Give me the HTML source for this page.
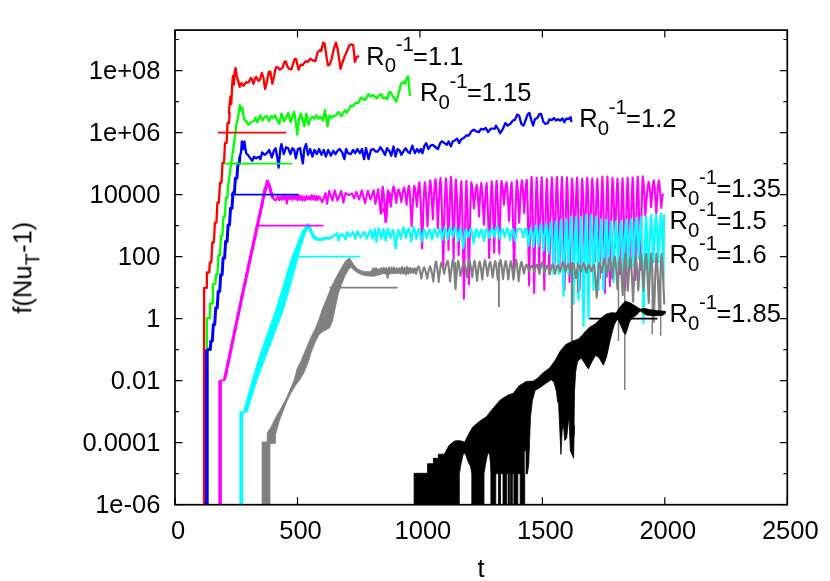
<!DOCTYPE html>
<html><head><meta charset="utf-8"><title>plot</title>
<style>
html,body{margin:0;padding:0;background:#fff;}
body{width:830px;height:581px;overflow:hidden;}
svg{display:block;}
text{font-family:"Liberation Sans",sans-serif;font-size:25.5px;fill:#000;}
</style></head><body>
<svg width="830" height="581" viewBox="0 0 830 581">
<rect width="830" height="581" fill="#fff"/>
<g id="curves">
<polyline points="204.1,504.7 204.1,287.8 206.9,287.8 206.9,272.4 209.3,272.4 209.8,262.4 211.3,262.4 212.3,242.5 213.9,242.5 214.9,222.6 216.4,222.6 217.4,202.7 218.9,202.7 220.0,182.7 221.5,182.7 222.5,162.8 224.0,162.8 225.0,142.9 226.6,142.9 227.6,123.0 229.1,123.0 229.6,113.0 228.9,113.0 229.6,104.2 230.4,96.6 231.3,104.2 232.1,85.8 232.9,76.0 234.0,84.7 234.7,71.7 235.6,67.9 236.7,76.0 238.0,80.4 239.7,86.9 241.2,83.1 243.4,85.8 245.9,82.5 248.6,82.3 250.8,78.0 252.1,79.3 253.5,83.8 255.1,78.2 256.4,76.9 258.4,80.9 260.0,79.8 261.8,73.0 263.3,77.1 265.1,89.0 267.0,81.4 268.7,72.2 270.3,71.7 272.3,83.8 274.1,76.0 275.9,67.3 277.7,67.1 279.8,69.7 282.8,67.3 284.4,61.9 285.7,61.4 287.4,66.3 289.3,69.0 291.4,69.3 293.1,63.6 294.7,58.9 296.1,59.2 298.5,69.7 300.7,64.6 302.8,65.2 305.0,61.9 306.0,61.2 307.7,62.0 310.2,58.7 312.8,60.4 315.3,61.2 317.8,51.9 320.0,50.2 321.2,51.1 323.2,42.6 324.6,43.5 326.3,55.3 327.9,65.4 329.6,64.6 331.3,60.4 333.5,50.2 335.9,42.6 337.6,48.6 340.6,68.8 342.6,62.0 344.8,56.1 347.3,50.2 349.4,45.2 351.6,44.3 353.2,45.2 354.9,62.0 356.6,57.0 359.2,56.1" fill="none" stroke="#ff0000" stroke-width="2.3" stroke-linejoin="round" />
<polyline points="206.9,504.7 206.9,318.2 209.9,318.2 209.9,303.5 212.9,303.5 212.9,283.9 215.5,283.9 216.0,274.3 217.5,274.3 218.5,255.1 220.0,255.1 221.0,235.9 222.4,235.9 223.4,216.8 224.9,216.8 225.9,197.6 227.4,197.6 227.9,188.0 227.9,188.0 230.1,171.0 232.1,157.5 234.4,140.6 236.5,123.7 238.2,117.0 239.8,105.2 241.0,110.2 242.4,107.7 243.9,118.7 246.1,121.2 248.6,124.6 251.1,122.0 253.7,121.2 255.4,117.8 257.0,122.0 258.7,119.5 260.4,115.3 262.4,120.4 264.6,117.0 266.8,116.1 268.9,121.2 270.9,116.1 273.1,117.8 274.8,115.3 277.3,120.4 279.3,123.7 281.5,113.6 284.0,121.2 286.1,117.8 288.2,112.8 290.4,122.0 292.5,117.0 294.2,111.9 295.8,122.0 297.2,134.7 298.9,119.5 300.9,113.6 302.6,120.4 304.3,126.3 306.3,113.6 308.5,124.6 310.7,117.8 312.7,117.0 314.4,118.7 316.4,115.3 318.6,118.7 320.8,117.0 322.8,120.4 325.0,110.2 327.5,126.3 329.6,115.3 331.6,117.8 333.8,116.1 336.0,115.3 338.3,111.9 341.4,116.1 344.8,110.2 346.8,112.8 350.7,106.0 353.2,106.0 355.7,102.6 358.2,103.2 360.8,97.6 365.0,100.1 366.2,98.3 368.4,94.1 370.6,96.6 372.6,94.9 374.7,96.6 376.9,98.3 379.4,94.9 381.1,94.1 383.1,98.3 385.3,97.5 387.0,99.2 389.2,92.4 390.7,92.1 392.9,96.6 396.3,101.7 398.8,92.4 401.3,83.1 403.3,82.3 404.7,84.0 406.4,78.9 408.1,76.4 408.9,85.7 410.1,95.8" fill="none" stroke="#00ff00" stroke-width="2.3" stroke-linejoin="round" />
<rect x="205.0" y="349.5" width="3.7" height="155.2" fill="#0000ff"/>
<polyline points="207.0,349.5 210.3,349.5 210.8,341.2 212.3,341.2 213.3,324.6 214.7,324.6 215.7,308.0 217.2,308.0 218.2,291.4 219.7,291.4 220.7,274.8 222.1,274.8 223.1,258.1 224.6,258.1 225.6,241.5 227.1,241.5 228.1,224.9 229.5,224.9 230.5,208.3 232.0,208.3 232.5,200.0 233.0,192.8 234.4,192.8 235.4,178.2 236.9,178.2 237.9,163.8 239.3,163.8 239.8,156.5" fill="none" stroke="#0000ff" stroke-width="3.0" stroke-linejoin="round" />
<polyline points="239.8,157.0 241.0,152.4 241.9,141.4 243.2,149.0 244.4,141.4 246.1,153.2 247.8,154.9 250.3,158.3 252.3,160.8 254.0,156.6 256.2,158.3 258.7,156.6 260.4,159.2 262.1,152.4 264.6,154.9 266.8,153.2 269.2,149.9 271.9,157.5 273.9,150.7 275.6,148.2 277.3,157.5 278.6,167.6 280.3,149.0 281.5,144.0 283.7,154.1 286.1,147.3 288.2,148.2 290.4,154.1 292.5,148.2 294.2,149.9 295.8,158.3 297.9,149.0 300.1,148.2 301.7,157.5 302.9,163.4 304.3,149.0 306.0,144.0 308.0,154.9 310.2,149.0 312.4,156.6 314.4,149.9 316.9,154.1 319.1,149.0 321.5,154.9 323.7,149.9 325.9,156.6 328.2,149.9 330.9,155.8 333.3,150.7 335.5,154.1 337.7,150.7 339.7,149.0 342.2,152.4 344.4,159.2 346.1,149.0 348.1,153.2 350.7,154.1 353.2,149.9 355.2,153.2 357.4,149.0 359.9,153.2 362.0,149.0 364.1,159.2 366.0,148.1 368.5,159.1 371.0,149.8 373.2,149.0 375.6,151.5 377.8,151.5 380.3,147.3 382.8,150.7 385.0,154.9 387.0,148.1 389.6,151.5 391.3,155.7 393.5,146.4 395.5,156.6 397.5,149.0 399.7,150.7 401.4,154.9 403.9,150.7 405.6,148.1 407.6,151.5 409.8,153.2 412.3,145.6 414.9,153.2 417.1,149.0 419.1,152.3 420.8,149.0 422.5,153.2 424.5,145.6 426.2,143.1 428.4,149.0 430.6,145.6 432.9,144.8 435.6,147.3 438.0,149.0 440.2,143.1 441.9,141.4 444.4,143.1 446.9,144.8 448.6,141.4 450.8,146.4 452.8,141.4 454.8,140.5 457.0,138.5 459.2,143.1 461.3,139.2 463.8,138.0 466.3,135.5 468.8,135.5 471.4,131.3 473.9,129.6 476.1,131.3 479.0,132.1 481.2,128.7 483.5,129.6 485.7,127.9 488.2,132.1 490.8,128.7 495.0,128.7 496.0,125.6 498.2,129.0 500.2,133.2 502.8,129.0 505.3,123.1 507.8,125.6 510.4,123.9 512.9,120.5 515.1,119.7 517.1,114.6 519.1,115.5 521.3,123.9 523.5,125.6 525.5,120.5 527.6,114.6 529.4,112.9 531.4,120.5 533.1,125.6 534.8,119.2 537.3,118.0 539.4,114.1 541.1,113.8 543.2,121.4 545.4,123.9 547.8,123.1 549.5,119.2 551.7,120.2 553.9,118.0 555.9,120.5 557.9,119.2 560.1,120.5 562.6,118.5 564.3,122.2 566.4,118.5 568.5,119.2 570.7,117.2 571.4,122.2" fill="none" stroke="#0000ff" stroke-width="2.3" stroke-linejoin="round" />
<rect x="218.3" y="380.3" width="3.6" height="124.4" fill="#ff00ff"/>
<polyline points="220.0,380.3 224.4,380.3 224.4,380.3 224.9,374.7 226.3,374.7 227.2,363.4 228.7,363.4 229.6,352.1 231.1,352.1 232.0,340.8 233.4,340.8 234.4,329.5 235.8,329.5 236.8,318.2 238.2,318.2 239.1,306.9 240.6,306.9 241.5,295.6 242.9,295.6 243.4,290.0 243.4,290.0 243.9,284.3 245.4,284.3 246.4,272.9 247.8,272.9 248.8,261.5 250.3,261.5 251.3,250.1 252.8,250.1 253.8,238.8 255.2,238.8 256.2,227.4 257.7,227.4 258.7,216.0 260.2,216.0 261.2,204.6 262.6,204.6 263.6,193.2 265.1,193.2 265.6,187.5" fill="none" stroke="#ff00ff" stroke-width="1.8" stroke-linejoin="round" />
<polyline points="224.6,379.5 243.4,290.0 265.6,187.5" fill="none" stroke="#ff00ff" stroke-width="3.1" stroke-linejoin="round" />
<polyline points="265.2,188.6 266.5,186.0 267.7,181.0 268.8,186.0 270.2,188.6 271.5,194.0 272.8,197.9 275.3,200.4 276.5,199.6 277.8,196.3 279.1,200.2 280.4,196.5 281.7,200.0 283.0,195.9 284.3,199.1 285.6,195.7 286.9,203.5 288.2,195.8 289.5,199.1 290.8,196.4 292.1,199.8 293.4,195.1 294.7,199.2 296.0,196.2 297.3,200.1 298.6,194.9 299.9,200.0 301.2,195.9 302.5,200.8 303.8,196.5 305.1,200.5 306.4,196.1 307.7,199.3 309.0,196.4 310.3,199.6 311.6,195.1 312.9,199.3 314.2,195.6 315.5,200.2 316.8,195.9 318.1,200.0 319.4,196.5 320.7,199.1 322.2,202.2 325.5,193.0 327.1,203.9 329.1,190.8 332.5,200.6 334.7,190.3 337.4,200.6 341.2,190.8 343.4,202.8 345.5,193.0 348.8,195.2 352.0,193.6 354.2,198.4 356.4,191.9 359.1,199.5 361.8,190.3 365.1,203.3 367.8,190.8 370.5,199.5 373.7,190.3 375.4,203.9 378.1,189.2 380.8,213.6 383.0,187.6 386.2,221.7 388.4,190.8 391.1,197.3 380.9,213.8 381.3,206.3 381.6,199.6 382.0,193.9 382.3,189.3 382.7,186.7 383.3,190.1 383.8,196.0 384.3,203.5 384.9,212.2 385.4,221.9 386.0,213.2 386.5,205.4 387.0,198.7 387.6,193.4 388.1,190.3 388.7,191.9 389.2,194.6 389.8,198.1 390.3,202.1 390.8,206.6 391.4,201.0 391.9,196.0 392.5,191.7 393.0,188.3 393.6,186.3 394.1,187.9 394.6,190.7 395.2,194.3 395.7,198.4 396.3,203.0 396.7,199.2 397.2,195.9 397.7,193.0 398.1,190.7 398.6,189.4 399.2,190.6 399.7,192.7 400.2,195.4 400.8,198.6 401.3,202.1 401.9,198.1 402.4,194.5 403.0,191.4 403.5,189.0 404.0,187.6 404.5,189.3 405.0,192.1 405.6,195.8 406.1,200.0 406.6,204.8 407.0,199.5 407.5,194.8 408.0,190.8 408.4,187.6 408.9,185.8 409.5,189.7 410.0,196.6 410.5,205.2 411.1,215.2 411.6,226.4 412.2,215.2 412.7,205.2 413.3,196.6 413.8,189.7 414.3,185.8 414.8,187.8 415.4,191.3 415.9,195.7 416.4,200.8 416.9,206.6 417.4,199.8 417.9,193.8 418.4,188.6 418.9,184.5 419.4,182.2 419.9,188.6 420.5,199.6 421.0,213.6 421.6,229.9 422.1,248.1 422.7,229.9 423.2,213.6 423.7,199.6 424.3,188.6 424.8,182.2 425.4,186.5 425.9,193.9 426.4,203.3 427.0,214.2 427.5,226.4 428.1,213.7 428.6,202.3 429.2,192.6 429.7,184.8 430.2,180.4 430.8,184.1 431.3,190.7 431.8,198.9 432.3,208.5 432.8,219.2 433.3,208.1 433.9,198.2 434.4,189.7 434.9,183.0 435.5,179.1 436.0,183.9 436.4,192.1 436.9,202.5 437.4,214.7 437.8,228.3 438.4,214.4 438.9,202.0 439.5,191.3 440.0,182.9 440.5,178.0 441.1,186.6 441.6,201.4 442.2,220.1 442.7,241.8 443.3,266.2 443.8,242.0 444.3,220.3 444.9,201.8 445.4,187.1 446.0,178.6 446.5,185.5 447.0,197.5 447.5,212.6 448.0,230.2 448.5,249.9 449.0,229.7 449.5,211.6 450.0,196.1 450.5,183.8 451.0,176.7 451.5,184.7 452.0,198.5 452.5,216.0 453.1,236.2 453.6,259.0 454.0,237.0 454.5,217.4 455.0,200.5 455.4,187.2 455.9,179.5 456.5,186.8 457.0,199.6 457.5,215.7 458.1,234.4 458.6,255.4 459.2,234.9 459.7,216.6 460.2,200.9 460.8,188.4 461.3,181.3 461.8,192.7 462.3,212.4 462.8,237.3 463.4,266.3 463.9,298.7 464.4,266.2 464.9,237.1 465.4,212.1 465.9,192.3 466.4,180.9 466.9,190.9 467.4,208.3 467.9,230.2 468.4,255.7 468.9,284.3 469.4,256.1 469.9,230.9 470.3,209.2 470.8,192.1 471.3,182.2 471.8,184.7 472.4,189.1 472.9,194.7 473.4,201.1 474.0,208.4 474.5,201.9 475.1,196.1 475.6,191.1 476.2,187.2 476.7,184.9 477.2,187.9 477.6,193.3 478.1,200.0 478.6,207.8 479.0,216.5 479.5,207.3 479.9,199.0 480.3,191.9 480.8,186.3 481.2,183.1 481.8,187.1 482.3,194.1 482.8,202.9 483.4,213.2 483.9,224.6 484.5,213.2 485.0,202.9 485.5,194.1 486.1,187.1 486.6,183.1 487.1,190.3 487.6,202.9 488.2,218.8 488.7,237.3 489.2,258.1 489.7,236.8 490.2,217.9 490.7,201.6 491.2,188.7 491.7,181.3 492.2,188.2 492.7,200.2 493.2,215.3 493.7,232.9 494.2,252.7 494.7,232.8 495.2,215.1 495.6,199.9 496.1,187.9 496.6,180.9 497.1,187.9 497.7,200.1 498.2,215.5 498.7,233.5 499.3,253.6 499.7,233.5 500.2,215.5 500.6,200.1 501.0,187.9 501.5,180.9 502.0,183.2 502.5,187.2 503.0,192.3 503.5,198.2 504.0,204.8 504.5,198.5 505.0,192.9 505.5,188.2 506.0,184.4 506.5,182.2 507.0,185.9 507.5,192.5 508.0,200.7 508.5,210.3 509.0,221.0 509.5,210.3 510.1,200.7 510.6,192.5 511.1,185.9 511.6,182.2 512.1,191.2 512.6,206.8 513.1,226.5 513.6,249.5 514.1,275.2 514.6,249.0 515.2,225.6 515.7,205.5 516.3,189.6 516.8,180.4 517.3,184.5 517.8,191.6 518.2,200.6 518.7,211.1 519.2,222.8 519.7,211.1 520.2,200.6 520.8,191.6 521.3,184.5 521.9,180.4 522.3,183.5 522.8,189.0 523.3,195.9 523.8,203.9 524.2,212.9 524.7,203.8 525.2,195.6 525.7,188.6 526.2,183.0 526.8,179.8 527.2,190.0 527.7,207.7 528.2,230.1 528.6,256.1 529.1,285.2 529.6,255.3 530.1,228.5 530.6,205.6 531.1,187.4 531.6,176.9 532.1,188.2 532.6,207.7 533.1,232.3 533.7,260.9 534.2,293.0 534.7,261.2 535.2,232.7 535.7,208.3 536.2,189.0 536.7,177.8 537.2,186.5 537.7,201.7 538.2,220.8 538.7,243.1 539.2,268.0 539.7,242.9 540.2,220.5 540.7,201.3 541.2,186.0 541.7,177.2 542.2,188.1 542.7,207.1 543.3,231.0 543.8,258.8 544.3,290.0 544.8,259.3 545.3,231.8 545.8,208.3 546.3,189.6 546.8,178.8 547.3,188.0 547.8,204.0 548.3,224.2 548.8,247.7 549.3,274.0 549.8,247.2 550.3,223.3 550.8,202.8 551.3,186.6 551.8,177.2 552.3,186.0 552.8,201.2 553.4,220.5 553.9,242.9 554.4,268.0 554.9,242.8 555.4,220.3 555.9,201.0 556.4,185.7 556.9,176.9 557.4,185.7 557.9,201.0 558.4,220.3 558.9,242.8 559.4,268.0 559.9,242.9 560.4,220.4 560.9,201.1 561.4,185.9 561.9,177.0 562.4,188.0 563.0,207.0 563.5,230.9 564.0,258.8 564.5,290.0 565.0,258.8 565.5,231.0 566.0,207.1 566.5,188.1 567.0,177.2 567.5,187.3 568.0,204.9 568.5,227.2 569.0,253.0 569.5,282.0 570.0,253.4 570.5,227.9 571.0,206.0 571.5,188.7 572.0,178.7 572.6,186.1 573.1,198.9 573.6,215.1 574.1,233.9 574.6,255.0 575.1,233.6 575.6,214.5 576.1,198.1 576.6,185.1 577.1,177.6 577.6,188.5 578.1,207.3 578.6,231.2 579.1,258.9 579.6,290.0 580.1,259.3 580.6,231.9 581.1,208.4 581.6,189.7 582.2,178.9 582.7,186.6 583.2,199.9 583.7,216.6 584.2,236.1 584.7,258.0 585.2,235.8 585.7,216.0 586.2,199.0 586.7,185.5 587.2,177.7 587.7,185.9 588.2,200.0 588.7,217.9 589.2,238.7 589.7,262.0 590.2,238.9 590.7,218.2 591.2,200.5 591.7,186.5 592.3,178.4 592.8,186.5 593.3,200.5 593.8,218.2 594.3,238.9 594.8,262.0 595.3,239.0 595.8,218.5 596.3,200.9 596.8,186.9 597.3,178.8 597.8,188.4 598.3,205.1 598.8,226.1 599.3,250.6 599.8,278.0 600.3,249.9 600.8,224.9 601.3,203.4 601.9,186.3 602.4,176.5 602.9,187.8 603.4,207.4 603.9,232.0 604.4,260.8 604.9,293.0 605.4,260.8 605.9,232.1 606.4,207.4 606.9,187.9 607.4,176.6 607.9,187.2 608.4,205.6 608.9,228.8 609.4,255.8 609.9,286.0 610.4,256.1 610.9,229.4 611.5,206.5 612.0,188.4 612.5,177.9 613.0,184.7 613.5,196.5 614.0,211.3 614.5,228.6 615.0,248.0 615.5,228.8 616.0,211.7 616.5,196.9 617.0,185.3 617.5,178.5 618.0,187.8 618.5,203.8 619.0,224.0 619.5,247.6 620.0,274.0 620.5,247.5 621.1,223.9 621.6,203.6 622.1,187.5 622.6,178.2 623.1,189.0 623.6,207.8 624.1,231.5 624.6,259.1 625.1,290.0 625.6,259.0 626.1,231.2 626.6,207.4 627.1,188.6 627.6,177.7 628.1,186.4 628.6,201.6 629.1,220.7 629.6,243.0 630.1,268.0 630.6,243.0 631.2,220.7 631.7,201.5 632.2,186.4 632.7,177.6 633.2,187.5 633.7,204.7 634.2,226.4 634.7,251.7 635.2,280.0 635.7,251.4 636.2,225.9 636.7,204.0 637.2,186.7 637.7,176.6 638.2,185.7 638.7,201.4 639.2,221.2 639.7,244.2 640.2,270.0 640.8,244.1 641.3,220.9 641.8,201.0 642.3,185.3 642.8,176.2 643.3,180.0 643.8,186.6 644.3,195.0 644.8,204.7 645.3,215.6 646.0,206.3 646.7,198.0 647.3,190.8 648.0,185.2 648.7,181.9 649.2,184.4 649.7,188.6 650.2,194.0 650.7,200.2 651.2,207.2 651.7,199.7 652.2,193.1 652.7,187.4 653.2,182.8 653.7,180.2 654.2,183.5 654.7,189.1 655.3,196.3 655.8,204.6 656.3,213.9 656.8,204.6 657.3,196.3 657.8,189.1 658.3,183.5 658.8,180.2 659.3,182.9 659.8,187.6 660.3,193.5 660.8,200.3 661.3,208.0 661.6,204.0 662.0,200.5 662.3,197.5 662.7,195.1 663.0,193.7" fill="none" stroke="#ff00ff" stroke-width="2.1" stroke-linejoin="round" />
<polyline points="264.6,192.0 266.3,186.5 267.4,181.2 268.3,183.5 269.3,185.6 270.5,190.0 271.6,194.5 273.2,198.2" fill="none" stroke="#ff00ff" stroke-width="3.2" stroke-linejoin="round" />
<rect x="239.4" y="411.7" width="3.8" height="93.0" fill="#00ffff"/>
<path d="M239.4 412.0 L243.3 412.0 L247.9 395.2 L252.4 379.5 L259.1 357.2 L266.9 334.8 L274.8 312.4 L281.9 290.0 L286.8 273.0 L292.0 256.3 L297.2 244.0 L301.4 232.5 L305.3 226.3 L306.6 224.4 L308.8 225.6 L308.4 228.5 L305.7 232.5 L301.8 244.0 L298.5 256.3 L293.9 273.0 L289.3 290.0 L282.6 312.4 L274.1 334.8 L265.8 357.2 L257.3 379.5 L252.4 395.2 L247.3 412.0 L243.2 412.5Z" fill="#00ffff" stroke="#00ffff" stroke-width="0.8" stroke-linejoin="round"/>
<polyline points="305.5,229.0 307.7,225.0 309.5,228.0 310.7,230.3 312.3,234.0 314.0,237.3 317.5,239.2 320.0,239.6 321.0,239.8 322.3,238.4 323.6,239.1 324.9,237.9 326.2,239.1 327.5,237.3 328.8,238.8 330.1,237.4 331.4,238.0 332.7,236.7 337.4,233.1 338.5,240.7 340.7,234.2 343.4,235.3 345.5,239.6 347.2,232.0 349.9,236.4 353.1,232.0 355.3,238.6 357.5,231.5 360.7,237.5 364.0,232.0 366.7,238.6 370.5,229.9 372.7,238.6 374.8,228.8 376.4,241.8 378.6,228.3 381.3,238.6 383.5,228.8 385.7,240.7 387.8,228.8 390.4,237.9 391.1,235.3 391.7,233.1 392.4,231.2 393.0,229.9 393.7,232.8 394.3,237.3 395.0,242.6 395.6,248.6 396.3,242.6 396.9,237.3 397.6,232.9 398.2,230.0 398.9,231.4 399.5,233.5 400.2,236.0 400.8,238.8 401.5,235.1 402.1,231.8 402.8,229.1 403.4,227.3 404.1,229.0 404.7,231.5 405.4,234.5 406.0,238.0 406.7,234.9 407.3,232.2 408.0,229.9 408.6,228.4 409.3,230.5 409.9,233.6 410.6,237.4 411.2,241.7 411.9,237.1 412.5,232.9 413.2,229.5 413.8,227.2 414.5,229.0 415.1,231.8 415.8,235.1 416.4,238.8 417.1,235.6 417.7,232.8 418.4,230.5 419.0,229.0 419.7,230.9 420.3,233.9 421.0,237.5 421.6,241.6 422.3,237.7 422.9,234.3 423.6,231.5 424.2,229.6 424.9,230.9 425.5,233.0 426.2,235.4 426.8,238.2 427.5,235.3 428.1,232.8 428.8,230.6 429.4,229.3 430.1,230.9 430.7,233.3 431.4,236.3 432.0,239.6 432.7,236.2 433.3,233.2 434.0,230.7 434.6,229.1 435.3,230.4 435.9,232.3 436.6,234.6 437.2,237.2 437.9,234.5 438.5,232.0 439.2,230.0 439.8,228.7 440.5,230.4 441.1,233.0 441.8,236.2 442.4,239.8 443.1,235.9 443.7,232.3 444.4,229.4 445.0,227.5 445.7,229.3 446.3,232.2 447.0,235.6 447.6,239.5 448.3,235.6 448.9,232.2 449.6,229.3 450.2,227.5 450.9,229.0 451.5,231.3 452.2,234.1 452.8,237.3 453.5,234.0 454.1,231.0 454.8,228.6 455.4,227.0 456.1,229.2 456.7,232.6 457.4,236.6 458.0,241.1 458.7,237.0 459.3,233.3 460.0,230.3 460.6,228.3 461.3,231.4 461.9,236.1 462.6,241.8 463.2,248.2 463.9,242.2 464.5,236.8 465.2,232.3 465.8,229.4 466.5,230.6 467.1,232.5 467.8,234.7 468.4,237.1 469.1,234.5 469.7,232.2 470.4,230.3 471.0,229.0 471.7,231.2 472.3,234.7 473.0,238.8 473.6,243.4 474.3,238.8 474.9,234.6 475.6,231.2 476.2,229.0 476.9,230.3 477.5,232.2 478.2,234.5 478.8,237.2 479.5,234.7 480.1,232.4 480.8,230.6 481.4,229.4 482.1,231.1 482.7,233.9 483.4,237.1 484.0,240.8 484.7,237.0 485.3,233.6 486.0,230.7 486.6,228.9 487.3,230.2 487.9,232.4 488.6,234.9 489.2,237.8 489.9,234.6 490.5,231.9 491.2,229.5 491.8,228.1 492.5,229.4 493.1,231.6 493.8,234.2 494.4,237.1 495.1,233.5 495.7,230.2 496.4,227.5 497.0,225.8 497.7,227.8 498.3,230.8 499.0,234.5 499.6,238.7 500.3,235.5 500.9,232.7 501.6,230.4 502.2,228.9 502.9,230.1 503.5,232.0 504.2,234.3 504.8,236.9 505.5,234.1 506.1,231.6 506.8,229.5 507.4,228.2 508.1,230.1 508.7,232.9 509.4,236.4 510.0,240.3 510.7,236.6 511.3,233.4 512.0,230.7 512.6,229.0 513.3,230.8 513.9,233.6 514.6,237.0 515.2,240.8 515.9,236.8 516.5,233.3 517.2,230.4 517.8,228.5 521.0,229.4 521.5,230.2 522.0,231.6 522.5,233.3 523.0,235.2 523.5,237.3 524.0,234.9 524.5,232.7 525.0,230.8 525.5,229.3 526.0,228.4 526.5,230.1 527.0,233.1 527.5,236.7 528.0,240.8 528.5,245.4 529.0,240.7 529.5,236.5 530.0,232.7 530.5,229.7 531.0,227.9 531.5,229.9 532.0,233.1 532.5,237.1 533.0,241.7 533.5,246.8 534.0,241.1 534.5,235.9 535.0,231.4 535.5,227.7 536.0,225.5 536.5,227.6 537.0,231.1 537.5,235.5 538.0,240.4 538.5,245.9 539.0,240.0 539.5,234.7 540.0,230.1 540.5,226.4 541.0,224.1 541.5,226.8 542.0,231.4 542.5,236.9 543.0,243.3 543.5,250.4 544.0,243.2 544.5,236.7 545.0,231.0 545.5,226.4 546.0,223.5 546.5,226.7 547.0,231.8 547.5,238.1 548.0,245.4 548.5,253.4 549.0,244.9 549.5,237.3 550.0,230.6 550.5,225.1 551.0,221.8 551.5,227.3 552.0,236.3 552.5,247.3 553.0,260.0 553.5,274.0 554.0,259.8 554.5,247.0 555.0,235.8 555.5,226.6 556.0,221.1 556.5,226.6 557.0,235.8 557.5,247.0 558.0,259.8 558.5,274.0 559.0,259.6 559.5,246.5 560.0,235.1 560.5,225.8 561.0,220.1 561.5,228.1 562.0,241.2 562.5,257.2 563.0,275.6 563.5,296.0 564.0,275.3 564.5,256.7 565.0,240.3 565.5,227.1 566.0,219.0 566.5,224.8 567.0,234.2 567.5,245.9 568.0,259.2 568.5,274.0 569.0,258.7 569.5,244.9 570.0,232.9 570.5,223.0 571.0,217.1 571.5,226.2 572.0,241.2 572.5,259.6 573.0,280.7 573.5,304.0 574.0,280.5 574.5,259.3 575.0,240.8 575.5,225.7 576.0,216.5 576.5,225.3 577.0,239.7 577.5,257.4 578.0,277.6 578.5,300.0 579.0,277.7 579.5,257.6 580.0,240.0 580.5,225.7 581.0,217.0 581.5,228.4 582.0,247.2 582.5,270.3 583.0,296.7 583.5,326.0 584.0,296.2 584.5,269.3 585.0,245.9 585.5,226.8 586.0,215.1 586.5,225.9 587.0,243.6 587.5,265.4 588.0,290.4 588.5,318.0 589.0,290.4 589.5,265.5 590.0,243.7 590.5,226.0 591.0,215.2 591.5,223.1 592.0,236.0 592.5,251.8 593.0,269.9 593.5,290.0 594.0,270.3 594.5,252.5 595.0,236.9 595.5,224.3 596.0,216.6 596.5,224.3 597.0,236.9 597.5,252.5 598.0,270.3 598.5,290.0 599.0,271.1 599.5,253.9 600.0,239.0 600.5,226.8 601.0,219.4 601.5,226.8 602.0,239.0 602.5,253.9 603.0,271.1 603.5,290.0 604.0,271.1 604.5,254.0 605.0,239.0 605.5,226.9 606.0,219.5 606.5,224.8 607.0,233.5 607.5,244.2 608.0,256.4 608.5,270.0 609.0,257.0 609.5,245.3 610.0,235.0 610.5,226.7 611.0,221.6 611.5,227.9 612.0,238.3 612.5,251.1 613.0,265.8 613.5,282.0 614.0,265.7 614.5,251.0 615.0,238.1 615.5,227.7 616.0,221.3 616.5,226.4 617.0,234.8 617.5,245.1 618.0,256.9 618.5,270.0 619.0,256.8 619.5,244.9 620.0,234.5 620.5,226.0 621.0,220.8 621.5,226.5 622.0,235.8 622.5,247.3 623.0,260.5 623.5,275.0 624.0,260.3 624.5,247.0 625.0,235.4 625.5,225.9 626.0,220.2 626.5,225.4 627.0,234.0 627.5,244.5 628.0,256.6 628.5,270.0 629.0,256.4 629.5,244.1 630.0,233.3 630.5,224.6 631.0,219.2 631.5,224.2 632.0,232.2 632.5,242.1 633.0,253.5 633.5,266.0 634.0,253.1 634.5,241.5 635.0,231.3 635.5,223.0 636.0,218.0 636.5,222.2 637.0,229.1 637.5,237.5 638.0,247.3 638.5,258.0 639.0,247.0 639.5,237.1 640.0,228.4 640.5,221.3 641.0,217.0 641.5,228.2 642.0,246.4 642.5,268.9 643.0,294.6 643.5,323.0 644.0,294.4 644.5,268.6 645.0,246.1 645.5,227.7 646.0,216.5 646.5,223.8 647.0,235.8 647.5,250.5 648.0,267.4 648.5,286.0 649.0,267.1 649.5,250.0 650.0,235.1 650.5,222.9 651.0,215.5 651.5,220.4 652.0,228.4 652.5,238.2 653.0,249.5 653.5,262.0 654.0,249.2 654.5,237.7 655.0,227.6 655.5,219.4 656.0,214.4 656.5,219.4 657.0,227.6 657.5,237.7 658.0,249.2 658.5,262.0 659.0,249.0 659.5,237.3 660.0,227.1 660.5,218.7 661.0,213.7 661.5,220.6 662.0,232.1 662.5,246.1 663.0,262.2 663.5,280.0 663.6,262.4 663.7,246.5 663.8,232.7 663.9,221.4 664.0,214.5" fill="none" stroke="#00ffff" stroke-width="2.2" stroke-linejoin="round" />
<polyline points="306.6,226.0 307.7,224.8 309.5,227.6 310.7,230.3 312.3,234.0 314.0,237.3 317.5,239.2 320.0,239.4 324.0,238.8" fill="none" stroke="#00ffff" stroke-width="3.3" stroke-linejoin="round" />
<path d="M262.1 504.7 L262.1 442.0 L267.2 442.0 L267.2 433.0 L270.7 427.5 L276.2 416.5 L280.3 409.6 L285.8 399.3 L291.3 386.9 L294.1 380.0 L297.2 368.4 L300.6 362.0 L305.4 350.2 L310.2 338.7 L315.1 329.0 L318.9 319.4 L322.8 307.8 L327.6 296.3 L331.4 286.6 L336.3 277.0 L341.1 268.3 L345.9 260.6 L349.4 258.1 L352.7 265.4 L348.8 269.3 L344.9 276.0 L341.1 285.7 L338.2 294.3 L335.3 307.8 L332.4 321.3 L329.5 328.1 L323.7 331.0 L318.9 334.8 L315.1 342.5 L311.2 352.2 L308.3 362.0 L303.9 372.8 L299.6 380.0 L295.5 385.5 L291.3 392.4 L287.2 400.7 L283.1 411.0 L279.6 420.0 L277.6 426.9 L275.5 435.1 L275.5 443.4 L270.0 443.4 L270.0 504.7Z" fill="#808080" stroke="#808080" stroke-width="0.8" stroke-linejoin="round"/>
<path d="M349.6 258.1 L353.3 263.9 L357.6 269.0 L363.4 271.4 L369.2 271.7 L374.9 269.7 L380.7 270.1 L387.9 269.4 L395.2 269.4 L399.2 269.1 L399.2 272.3 L395.2 272.9 L389.4 272.9 L383.6 273.5 L377.8 275.2 L373.5 276.3 L367.7 275.9 L361.9 274.8 L356.1 271.9 L351.1 267.5Z" fill="#808080" stroke="#808080" stroke-width="0.8" stroke-linejoin="round"/>
<polyline points="372.0,272.5 373.3,268.4 374.6,272.6 375.9,268.3 377.2,273.1 378.5,269.2 379.8,272.5 381.1,268.2 382.4,272.6 383.7,267.8 385.0,273.4 386.3,268.3 387.6,277.7 388.9,267.6 390.2,273.6 391.5,267.6 392.8,273.3 394.1,267.6 395.4,273.1 396.7,268.4 398.0,273.2 399.3,268.3 400.6,273.6 401.9,267.1 403.2,273.5 404.5,267.7 405.8,274.5 407.1,267.1 408.4,273.8 409.7,267.8 411.0,272.9 412.3,268.4 413.6,272.9 414.9,268.4 416.2,273.7 417.5,267.7 418.6,266.3 419.2,267.6 419.7,269.7 420.2,272.4 420.8,275.4 421.3,278.7 421.9,275.7 422.4,272.9 423.0,270.5 423.5,268.5 424.0,267.3 424.7,268.5 425.3,270.5 426.0,272.9 426.6,275.7 427.3,278.7 427.8,275.4 428.4,272.4 428.9,269.7 429.5,267.6 430.0,266.3 430.7,267.9 431.3,270.5 432.0,273.7 432.6,277.4 433.3,281.4 433.8,276.1 434.3,271.2 434.9,266.9 435.4,263.5 436.0,261.4 436.5,263.6 437.0,267.1 437.6,271.5 438.1,276.5 438.7,282.0 439.2,276.8 439.8,272.0 440.3,267.9 440.8,264.5 441.4,262.5 441.9,263.7 442.5,265.6 443.0,268.0 443.6,270.8 444.1,273.9 444.8,270.4 445.5,267.2 446.2,264.5 447.0,262.2 447.7,260.8 448.2,263.0 448.6,266.6 449.1,270.9 449.6,275.9 450.1,281.4 450.7,275.5 451.3,270.1 451.9,265.4 452.5,261.6 453.1,259.2 453.6,262.4 454.1,267.5 454.5,273.8 455.0,281.0 455.5,289.0 456.0,281.5 456.6,274.6 457.1,268.7 457.7,263.8 458.2,260.8 458.6,262.4 459.1,265.1 459.5,268.3 459.9,272.0 460.4,276.0 461.1,272.5 461.9,269.4 462.6,266.6 463.4,264.4 464.2,263.0 464.7,264.5 465.2,266.9 465.8,269.9 466.3,273.3 466.9,277.1 467.3,272.3 467.7,268.0 468.2,264.2 468.6,261.1 469.0,259.2 469.7,261.1 470.3,264.2 471.0,268.0 471.6,272.3 472.3,277.1 472.7,272.7 473.2,268.8 473.6,265.4 474.0,262.6 474.5,260.8 475.0,263.0 475.5,266.4 476.0,270.7 476.5,275.6 477.1,281.0 477.6,275.8 478.1,271.1 478.6,267.0 479.1,263.6 479.7,261.6 480.2,263.5 480.7,266.6 481.2,270.4 481.7,274.7 482.3,279.6 482.8,274.4 483.3,269.7 483.8,265.5 484.3,262.2 484.9,260.2 485.4,261.8 485.9,264.6 486.4,267.9 486.9,271.8 487.5,276.0 488.0,272.2 488.5,268.8 489.0,265.8 489.5,263.3 490.1,261.8 490.6,263.5 491.1,266.2 491.6,269.5 492.1,273.3 492.7,277.5 493.2,273.1 493.7,269.1 494.2,265.6 494.7,262.8 495.3,261.0 495.8,263.0 496.3,266.3 496.8,270.3 497.3,274.9 497.9,279.9 498.4,274.5 498.9,269.6 499.4,265.3 499.9,261.9 500.5,259.8 501.0,261.8 501.5,265.1 502.0,269.1 502.5,273.8 503.1,278.9 503.6,274.1 504.1,269.8 504.6,266.0 505.1,262.9 505.7,261.0 506.2,263.0 506.7,266.2 507.2,270.1 507.7,274.6 508.3,279.5 508.8,274.6 509.3,270.2 509.8,266.3 510.3,263.1 510.9,261.2 511.4,263.1 511.9,266.3 512.4,270.2 512.9,274.7 513.5,279.7 514.0,274.3 514.5,269.5 515.0,265.2 515.5,261.8 516.1,259.7 516.6,261.9 517.1,265.6 517.6,270.2 518.1,275.4 518.7,281.1 519.2,275.9 519.7,271.2 520.2,267.2 520.7,263.8 521.3,261.8 521.8,263.0 522.3,265.1 522.8,267.5 523.3,270.4 523.9,273.6 524.4,271.2 524.9,269.0 525.4,267.1 525.9,265.5 526.5,264.6 527.0,265.3 527.5,266.4 528.0,267.8 528.5,269.3 529.1,271.1 529.6,269.6 530.1,268.2 530.6,267.0 531.1,266.1 531.7,265.5 532.2,266.1 532.7,267.1 533.2,268.4 533.7,269.9 534.3,271.5 534.8,269.6 535.3,268.0 535.8,266.5 536.3,265.4 536.9,264.7 537.4,265.6 537.9,267.2 538.4,269.2 538.9,271.5 539.5,274.0 540.0,270.8 540.5,268.0 541.0,265.6 541.5,263.6 542.1,262.3 542.6,263.4 543.1,265.2 543.6,267.5 544.1,270.0 544.7,272.8 545.2,270.8 545.7,269.0 546.2,267.4 546.7,266.1 547.3,265.3 547.8,266.2 548.3,267.8 548.8,269.7 549.3,271.8 549.9,274.2 550.4,271.6 550.9,269.2 551.4,267.1 551.9,265.4 552.5,264.4 553.0,265.4 553.5,267.0 554.0,269.0 554.5,271.2 555.1,273.7 555.6,271.4 556.1,269.3 556.6,267.4 557.1,265.9 557.7,265.0 558.2,265.7 558.7,266.9 559.2,268.3 559.7,270.0 560.3,271.8 560.8,269.3 561.3,266.9 561.8,264.9 562.3,263.2 562.9,262.2 563.4,263.2 563.9,264.9 564.4,267.0 564.9,269.4 565.5,272.0 566.0,269.8 566.5,267.7 567.0,265.9 567.5,264.5 568.1,263.6 568.6,264.7 569.1,266.5 569.6,268.7 570.1,271.2 570.7,274.0 571.2,271.2 571.7,268.6 572.2,266.4 572.7,264.6 573.3,263.5 573.8,265.0 574.3,267.6 574.8,270.7 575.3,274.2 575.9,278.2 576.4,274.8 576.9,271.7 577.4,269.0 577.9,266.8 578.5,265.5 579.0,266.1 579.5,267.1 580.0,268.4 580.5,269.9 581.1,271.6 581.6,269.3 582.1,267.2 582.6,265.4 583.1,264.0 583.7,263.1 584.2,264.1 584.7,265.8 585.2,267.8 585.7,270.1 586.3,272.7 586.8,270.6 587.3,268.6 587.8,266.9 588.3,265.5 588.9,264.6 589.4,265.3 589.9,266.5 590.4,268.0 590.9,269.7 591.5,271.5 592.0,269.8 592.5,268.1 593.0,266.7 593.5,265.6 594.1,264.9 594.6,268.3 595.1,274.0 595.6,280.9 596.1,288.8 596.7,297.6 597.2,288.3 597.7,279.8 598.2,272.4 598.7,266.5 599.3,262.8 599.8,263.8 600.3,265.4 600.8,267.5 601.3,269.8 601.9,272.4 602.4,268.7 602.9,265.4 603.4,262.5 603.9,260.1 604.5,258.7 605.0,260.6 605.5,263.7 606.0,267.5 606.5,271.9 607.1,276.7 607.6,271.6 608.1,266.9 608.6,262.8 609.1,259.5 609.7,257.5 610.2,259.7 610.7,263.3 611.2,267.8 611.7,272.9 612.3,278.6 612.8,272.6 613.3,267.3 613.8,262.6 614.3,258.8 614.9,256.4 615.4,259.9 615.9,265.5 616.4,272.4 616.9,280.4 617.5,289.1 618.0,280.6 618.5,272.8 619.0,266.1 619.5,260.6 620.1,257.3 620.6,261.2 621.1,267.7 621.6,275.8 622.1,284.9 622.7,295.1 623.2,284.1 623.7,274.1 624.2,265.4 624.7,258.4 625.3,254.1 625.8,257.9 626.3,264.2 626.8,271.9 627.3,280.8 627.9,290.6 628.4,281.4 628.9,273.1 629.4,265.9 629.9,260.0 630.5,256.4 631.0,261.2 631.5,269.0 632.0,278.6 632.5,289.6 633.1,301.8 633.6,289.2 634.1,277.9 634.6,268.0 635.1,260.0 635.7,255.1 636.2,258.8 636.7,264.9 637.2,272.4 637.7,281.0 638.3,290.5 638.8,280.9 639.3,272.2 639.8,264.5 640.3,258.4 640.9,254.6 641.4,258.4 641.9,264.5 642.4,272.1 642.9,280.8 643.5,290.4 644.0,280.6 644.5,271.7 645.0,263.9 645.5,257.6 646.1,253.7 646.6,258.9 647.1,267.4 647.6,277.8 648.1,289.8 648.7,303.0 649.2,289.6 649.7,277.6 650.2,267.0 650.7,258.4 651.3,253.2 651.8,260.4 652.3,272.2 652.8,286.7 653.3,303.4 653.9,321.8 654.4,303.4 654.9,286.8 655.4,272.3 655.9,260.5 656.5,253.3 657.0,259.3 657.5,269.3 658.0,281.5 658.5,295.4 659.1,310.9 659.6,295.6 660.1,281.8 660.6,269.7 661.1,259.8 661.7,253.8 662.2,259.2 662.7,267.9 663.2,278.6 663.7,290.9 664.3,304.5" fill="none" stroke="#808080" stroke-width="2.1" stroke-linejoin="round" />
<line x1="455.5" y1="262" x2="455.5" y2="288.8" stroke="#808080" stroke-width="1.5"/>
<line x1="499.0" y1="262" x2="499.0" y2="307.0" stroke="#808080" stroke-width="1.5"/>
<line x1="498.7" y1="262" x2="498.7" y2="307.0" stroke="#808080" stroke-width="1.5"/>
<line x1="572.3" y1="262" x2="572.3" y2="341.0" stroke="#808080" stroke-width="1.5"/>
<line x1="577.5" y1="262" x2="577.5" y2="293.0" stroke="#808080" stroke-width="1.5"/>
<line x1="624.8" y1="262" x2="624.8" y2="390.0" stroke="#808080" stroke-width="1.5"/>
<line x1="618.5" y1="262" x2="618.5" y2="341.0" stroke="#808080" stroke-width="1.5"/>
<line x1="652.3" y1="262" x2="652.3" y2="334.4" stroke="#808080" stroke-width="1.5"/>
<line x1="660.7" y1="262" x2="660.7" y2="335.6" stroke="#808080" stroke-width="1.5"/>
<line x1="571.5" y1="262" x2="571.5" y2="341.0" stroke="#808080" stroke-width="1.5"/>
<path d="M414.1 504.4 L414.1 473.3 L427.5 473.3 L427.5 463.7 L433.4 463.7 L433.4 458.3 L438.3 458.3 L438.3 454.2 L444.3 454.2 L448.8 445.7 L454.2 441.1 L459.6 440.6 L464.7 442.1 L466.9 437.5 L472.3 427.6 L479.5 421.3 L486.3 416.8 L493.5 407.7 L500.7 399.6 L508.0 395.1 L513.4 393.3 L518.8 386.0 L526.0 381.5 L533.3 381.1 L536.9 378.8 L542.3 373.4 L549.5 368.0 L554.9 360.7 L560.4 350.8 L565.8 344.5 L571.2 341.7 L578.4 339.0 L583.9 333.6 L583.6 333.2 L589.6 327.2 L595.7 323.6 L601.7 317.5 L606.5 313.9 L611.3 312.7 L616.1 313.0 L618.6 309.1 L622.2 304.3 L625.5 301.3 L630.6 303.1 L635.4 306.1 L640.2 309.1 L645.1 308.5 L649.9 309.7 L654.7 310.3 L659.5 310.9 L665.5 311.3 L665.5 313.3 L663.1 315.1 L657.1 315.7 L651.1 315.4 L646.3 315.1 L642.7 312.7 L640.2 310.9 L636.6 315.1 L631.8 318.1 L629.4 322.3 L627.6 328.4 L625.5 334.4 L623.4 332.0 L621.0 326.0 L618.0 319.3 L616.1 321.1 L614.3 324.8 L612.5 330.8 L610.7 338.0 L606.5 357.1 L603.4 365.2 L599.2 358.0 L595.6 355.3 L592.0 361.6 L588.4 368.9 L584.8 363.4 L581.2 358.0 L577.5 361.6 L575.7 371.6 L574.5 391.4 L573.9 435.0 L574.3 425.3 L573.6 458.2 L570.3 450.6 L569.0 415.2 L566.7 438.0 L564.7 440.5 L563.5 425.3 L562.2 430.4 L560.9 454.4 L560.2 438.0 L558.4 400.0 L557.7 402.3 L556.4 391.4 L554.0 382.4 L551.3 379.7 L545.9 383.3 L539.6 387.8 L535.1 390.5 L532.4 400.5 L530.5 416.8 L528.7 464.6 L527.4 473.7 L524.7 473.7 L524.7 504.4 L520.2 504.4 L520.2 473.7 L517.8 473.7 L517.8 504.4 L513.9 504.4 L513.9 473.7 L512.4 473.7 L512.4 504.4 L510.6 504.4 L510.6 473.7 L509.7 473.7 L509.7 504.4 L508.1 504.4 L508.1 473.7 L506.6 473.7 L506.6 504.4 L503.0 504.4 L503.0 473.7 L500.5 473.7 L500.5 504.4 L498.5 504.4 L498.5 473.7 L495.8 473.7 L495.8 504.4 L490.9 504.4 L490.9 473.7 L490.4 462.8 L489.5 453.4 L487.7 453.4 L485.8 462.8 L484.0 473.7 L484.0 504.4 L471.8 504.4 L471.8 473.7 L470.5 466.4 L467.8 461.0 L465.4 453.8 L463.6 452.9 L462.4 457.4 L460.5 466.4 L459.3 474.6 L459.3 504.4 L414.1 504.4Z" fill="#000000" stroke="#000000" stroke-width="0.8" stroke-linejoin="round"/>
<line x1="525.2" y1="451.1" x2="525.2" y2="473.7" stroke="#fff" stroke-width="0.9"/>
<line x1="218.0" y1="132.6" x2="286.0" y2="132.6" stroke="#ff0000" stroke-width="1.6"/>
<line x1="224.4" y1="163.6" x2="292.4" y2="163.6" stroke="#00ff00" stroke-width="1.6"/>
<line x1="230.7" y1="194.6" x2="298.5" y2="194.6" stroke="#0000ff" stroke-width="1.6"/>
<line x1="258.5" y1="225.6" x2="323.3" y2="225.6" stroke="#ff00ff" stroke-width="1.6"/>
<line x1="297.9" y1="256.6" x2="360.4" y2="256.6" stroke="#00ffff" stroke-width="1.6"/>
<line x1="329.5" y1="287.6" x2="397.6" y2="287.6" stroke="#808080" stroke-width="1.6"/>
<line x1="589.4" y1="318.6" x2="657.4" y2="318.6" stroke="#000000" stroke-width="1.6"/>
</g>
<g id="frame">
<rect x="175.0" y="30.1" width="612.3" height="474.6" fill="none" stroke="#000" stroke-width="1.7"/>
<path d="M175.0 504.6 h7.5 M787.3 504.6 h-7.5 M175.0 473.6 h3.9 M787.3 473.6 h-3.9 M175.0 442.6 h7.5 M787.3 442.6 h-7.5 M175.0 411.6 h3.9 M787.3 411.6 h-3.9 M175.0 380.6 h7.5 M787.3 380.6 h-7.5 M175.0 349.6 h3.9 M787.3 349.6 h-3.9 M175.0 318.6 h7.5 M787.3 318.6 h-7.5 M175.0 287.6 h3.9 M787.3 287.6 h-3.9 M175.0 256.6 h7.5 M787.3 256.6 h-7.5 M175.0 225.6 h3.9 M787.3 225.6 h-3.9 M175.0 194.6 h7.5 M787.3 194.6 h-7.5 M175.0 163.6 h3.9 M787.3 163.6 h-3.9 M175.0 132.6 h7.5 M787.3 132.6 h-7.5 M175.0 101.6 h3.9 M787.3 101.6 h-3.9 M175.0 70.6 h7.5 M787.3 70.6 h-7.5 M175.0 39.5 h3.9 M787.3 39.5 h-3.9 M175.0 504.7 v-7.4 M175.0 30.1 v7.4 M297.5 504.7 v-7.4 M297.5 30.1 v7.4 M419.9 504.7 v-7.4 M419.9 30.1 v7.4 M542.4 504.7 v-7.4 M542.4 30.1 v7.4 M664.8 504.7 v-7.4 M664.8 30.1 v7.4 M787.3 504.7 v-7.4 M787.3 30.1 v7.4" stroke="#000" stroke-width="1.2" fill="none"/>
</g>
<g id="labels" opacity="0.999">
<text x="160.4" y="78.8" text-anchor="end">1e+08</text>
<text x="160.4" y="140.8" text-anchor="end">1e+06</text>
<text x="160.4" y="202.8" text-anchor="end">10000</text>
<text x="160.4" y="264.8" text-anchor="end">100</text>
<text x="160.4" y="326.8" text-anchor="end">1</text>
<text x="160.4" y="388.8" text-anchor="end">0.01</text>
<text x="160.4" y="450.8" text-anchor="end">0.0001</text>
<text x="160.4" y="512.8" text-anchor="end">1e-06</text>
<text x="178.0" y="538.9" text-anchor="middle">0</text>
<text x="300.5" y="538.9" text-anchor="middle">500</text>
<text x="422.9" y="538.9" text-anchor="middle">1000</text>
<text x="545.4" y="538.9" text-anchor="middle">1500</text>
<text x="667.8" y="538.9" text-anchor="middle">2000</text>
<text x="790.3" y="538.9" text-anchor="middle">2500</text>
<text x="481" y="577.3" text-anchor="middle">t</text>
<text transform="translate(31.4,313.6) rotate(-90)">f(Nu<tspan font-size="20.4" dy="7.6">T</tspan><tspan dy="-7.6">-1)</tspan></text>
<text x="366.3" y="64.5">R<tspan font-size="20.4" dy="7.7">0</tspan><tspan font-size="20.4" dy="-20.96" dx="-0.4">-1</tspan><tspan dy="13.26" dx="-0.7">=1.1</tspan></text>
<text x="420.1" y="100.8">R<tspan font-size="20.4" dy="7.7">0</tspan><tspan font-size="20.4" dy="-20.96" dx="-0.4">-1</tspan><tspan dy="13.26" dx="-0.7">=1.15</tspan></text>
<text x="579.3" y="127.3">R<tspan font-size="20.4" dy="7.7">0</tspan><tspan font-size="20.4" dy="-20.96" dx="-0.4">-1</tspan><tspan dy="13.26" dx="-0.7">=1.2</tspan></text>
<text x="669.6" y="197.1">R<tspan font-size="20.4" dy="7.7">0</tspan><tspan font-size="20.4" dy="-20.96" dx="-0.4">-1</tspan><tspan dy="13.26" dx="-0.7">=1.35</tspan></text>
<text x="669.6" y="228.8">R<tspan font-size="20.4" dy="7.7">0</tspan><tspan font-size="20.4" dy="-20.96" dx="-0.4">-1</tspan><tspan dy="13.26" dx="-0.7">=1.5</tspan></text>
<text x="669.6" y="263.4">R<tspan font-size="20.4" dy="7.7">0</tspan><tspan font-size="20.4" dy="-20.96" dx="-0.4">-1</tspan><tspan dy="13.26" dx="-0.7">=1.6</tspan></text>
<text x="669.6" y="321.9">R<tspan font-size="20.4" dy="7.7">0</tspan><tspan font-size="20.4" dy="-20.96" dx="-0.4">-1</tspan><tspan dy="13.26" dx="-0.7">=1.85</tspan></text>
</g>
</svg>
</body></html>
